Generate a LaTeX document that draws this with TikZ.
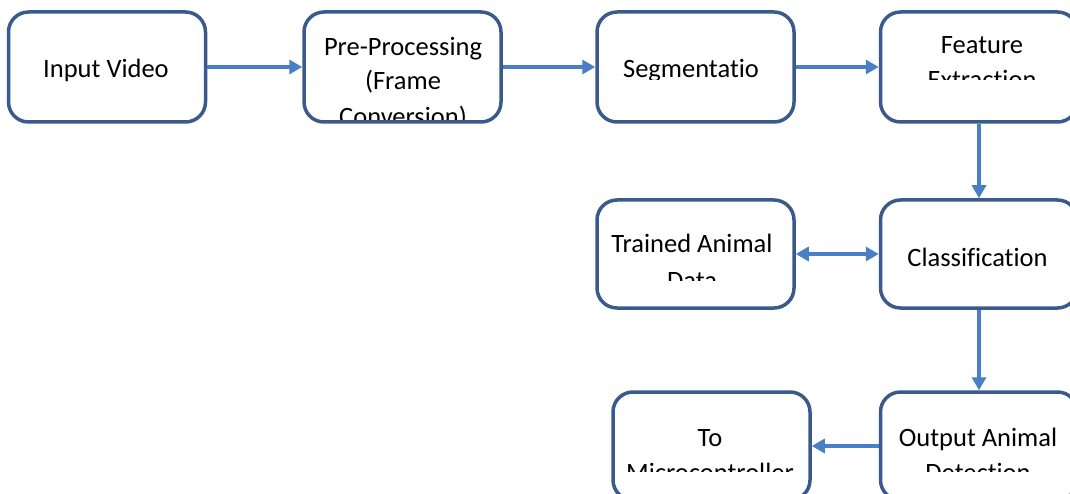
\documentclass[tikz,border=0pt]{standalone}
\usepackage{fontspec}
\setmainfont{Carlito}[Ligatures=NoCommon]
\usetikzlibrary{arrows.meta}
\definecolor{boxline}{RGB}{59,90,140}
\definecolor{arrowline}{RGB}{74,126,199}
\tikzset{
  procbox/.style={draw=boxline, line width=3.5pt, rounded corners=20pt, fill=white,
    minimum width=197pt, inner sep=0pt},
  label/.style={font=\fontsize{26.5}{31}\selectfont, anchor=base, inner sep=0pt},
  flow/.style={draw=arrowline, line width=3.2pt, -{Triangle[length=13pt,width=14pt]}},
  bothflow/.style={draw=arrowline, line width=3.2pt,
    {Triangle[length=13pt,width=14pt]}-{Triangle[length=13pt,width=14pt]}}
}
\begin{document}
\begin{tikzpicture}[x=1pt,y=-1pt]
\clip (0,0) rectangle (1070,494);
\fill[white] (0,0) rectangle (1070,494);

% processing blocks
\node[procbox, minimum height=110pt] (in)  at (107,67)   {};
\node[procbox, minimum height=110pt] (pre) at (402.5,67) {};
\node[procbox, minimum height=110pt] (seg) at (695.5,67) {};
\node[procbox, minimum height=110pt] (fe)  at (979,67)   {};
\node[procbox, minimum height=108pt] (tr)  at (695.5,254) {};
\node[procbox, minimum height=108pt] (cl)  at (979,254)  {};
\node[procbox, minimum height=108pt] (mc)  at (711.5,446) {};
\node[procbox, minimum height=108pt] (out) at (979,446)  {};

% block texts, cut off where the text area ends
\node[label] (tin) at (106,78) {Input Video};
\begin{scope}
  \clip (310,16) rectangle (495,120);
  \node[label] (tpre1) at (403,56) {Pre-Processing};
  \node[label] (tpre2) at (403,90) {(Frame};
  \node[label] (tpre3) at (403,126) {Conversion)};
\end{scope}
\begin{scope}
  \clip (600,16) rectangle (790,80);
  \node[label] (tseg) at (691,78) {Segmentatio};
\end{scope}
\begin{scope}
  \clip (885,16) rectangle (1070,80);
  \node[label] (tfe1) at (982,54) {Feature};
  \node[label] (tfe2) at (982,89) {Extraction};
\end{scope}
\begin{scope}
  \clip (600,204) rectangle (790,280);
  \node[label] (ttr1) at (692,253) {Trained Animal};
  \node[label] (ttr2) at (692,289) {Data};
\end{scope}
\node[label] (tcl) at (977.5,266) {Classification};
\begin{scope}
  \clip (616,396) rectangle (806,471);
  \node[label] (tmc1) at (710,446) {To};
  \node[label] (tmc2) at (710,481) {Microcontroller};
\end{scope}
\begin{scope}
  \clip (885,396) rectangle (1070,471);
  \node[label] (tout1) at (978,446) {Output Animal};
  \node[label] (tout2) at (978,481) {Detection};
\end{scope}

% connectors
\draw[flow] (in.east) -- (pre.west);
\draw[flow] (pre.east) -- (seg.west);
\draw[flow] (seg.east) -- (fe.west);
\draw[flow] (fe.south) -- (cl.north);
\draw[bothflow] (tr.east) -- (cl.west);
\draw[flow] (cl.south) -- (out.north);
\draw[flow] (out.west) -- (mc.east);
\end{tikzpicture}
\end{document}
